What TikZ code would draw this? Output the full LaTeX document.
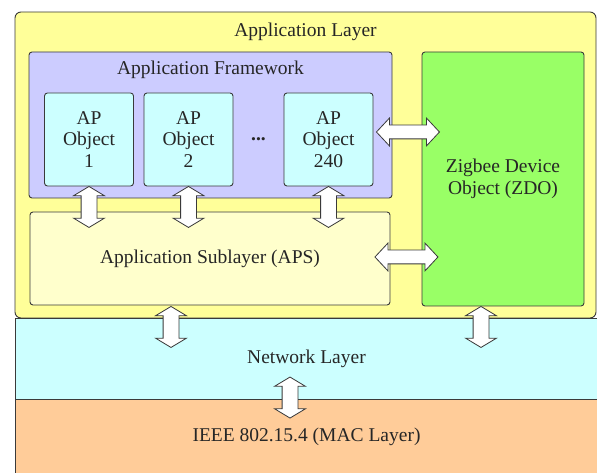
\documentclass[tikz,border=0pt]{standalone}
\usepackage{fontspec}
\setmainfont{Liberation Serif}
\newfontfamily\lserif{Liberation Serif}
\usetikzlibrary{positioning,calc,shapes.arrows}
\definecolor{appyellow}{HTML}{FFFF99}
\definecolor{fwlav}{HTML}{CCCCFF}
\definecolor{apocyan}{HTML}{CCFFFF}
\definecolor{apsyel}{HTML}{FFFFCC}
\definecolor{zdogreen}{HTML}{99FF66}
\definecolor{netcyan}{HTML}{CCFFFF}
\definecolor{macorange}{HTML}{FFCC99}
\definecolor{edgegray}{HTML}{3A3A3A}
\definecolor{txtgray}{HTML}{262626}
\tikzset{
  % lager
  lay/.style={draw=edgegray,line width=0.9pt,inner sep=0pt,text=txtgray},
  blk/.style={lay,rounded corners=3pt},
  apo/.style={blk,fill=apocyan,minimum width=89pt,minimum height=93pt,align=center},
  % pilar
  darr/.style={double arrow,draw=edgegray,fill=white,line width=0.8pt,inner xsep=0pt,
               double arrow head indent=0pt},
  varr/.style={darr,inner ysep=7.5pt,minimum height=41pt,double arrow head extend=7.5pt,
               double arrow tip angle=118,rotate=90},
  harr/.style={darr,inner ysep=6.5pt,minimum height=63pt,double arrow head extend=7pt,
               double arrow tip angle=94},
}
\begin{document}
\begin{tikzpicture}[x=1pt,y=1pt,every node/.append style={font=\lserif\fontsize{19.5}{21.5}\selectfont,text=txtgray}]
  \useasboundingbox (0,0) rectangle (597,473);
  \node[lay,fill=netcyan,minimum width=583pt,minimum height=81pt] (net) at (306.5,114.5) {Network Layer};
  \node[lay,fill=macorange,minimum width=583pt,minimum height=75pt] (mac) at (306.5,36.5) {IEEE 802.15.4 (MAC Layer)};
  \node[lay,rounded corners=6pt,fill=appyellow,minimum width=581pt,minimum height=306pt] (app) at (305.5,308) {};
  \node (applbl) at ($(app.north)+(0,-20)$) {Application Layer};
  \node[blk,fill=fwlav,minimum width=363pt,minimum height=146pt] (fw) at (210.5,348) {};
  \node (fwlbl) at ($(fw.north)+(0,-18)$) {Application Framework};
  \node[apo] (ap1) at (89,333.5) {AP\\Object\\1};
  \node[apo] (ap2) at (188.5,333.5) {AP\\Object\\2};
  \node[apo] (ap240) at (328.5,333.5) {AP\\Object\\240};
  \node (dots) at ($(ap2.east)!0.5!(ap240.west)$) {\textbf{...}};
  \node[blk,fill=zdogreen,minimum width=162pt,minimum height=254pt,align=center] (zdo) at (503,294) {Zigbee Device\\Object (ZDO)};
  \node[blk,fill=apsyel,minimum width=360pt,minimum height=93pt] (aps) at (210,214.5) {Application Sublayer (APS)};
  \node[varr] (v1) at ($(ap1.south)+(0,-20.5)$) {};
  \node[varr] (v2) at ($(ap2.south)+(0,-20.5)$) {};
  \node[varr] (v3) at ($(ap240.south)+(0,-20.5)$) {};
  \node[harr] (h1) at ($(ap240.east)+(34.5,7.5)$) {};
  \node[harr] (h2) at ($(aps.east)+(16,1.5)$) {};
  \node[varr] (v4) at ($(aps.south)+(-39,-21.5)$) {};
  \node[varr] (v5) at ($(zdo.south)+(-22,-20.5)$) {};
  \node[varr] (v6) at ($(mac.north)+(-16.5,1)$) {};
\end{tikzpicture}
\end{document}
